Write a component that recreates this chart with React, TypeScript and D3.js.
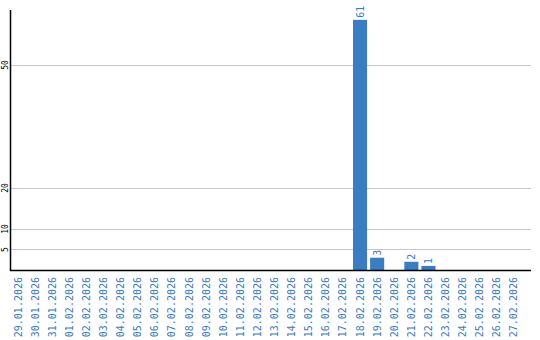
import React from "react";
import * as d3 from "d3";

const categories: string[] = [
  "29.01.2026", "30.01.2026", "31.01.2026", "01.02.2026", "02.02.2026", "03.02.2026",
  "04.02.2026", "05.02.2026", "06.02.2026", "07.02.2026", "08.02.2026", "09.02.2026",
  "10.02.2026", "11.02.2026", "12.02.2026", "13.02.2026", "14.02.2026", "15.02.2026",
  "16.02.2026", "17.02.2026", "18.02.2026", "19.02.2026", "20.02.2026", "21.02.2026",
  "22.02.2026", "23.02.2026", "24.02.2026", "25.02.2026", "26.02.2026", "27.02.2026",
];
const values: number[] = [
  0, 0, 0, 0, 0, 0, 0, 0, 0, 0, 0, 0, 0, 0, 0, 0, 0, 0, 0, 0,
  61, 3, 0, 2, 1, 0, 0, 0, 0, 0,
];
const yTicks: number[] = [5, 10, 20, 50];

const W = 540;
const H = 340;
const left = 10.5;
const top = 10;
const bottom = 270;
const right = 531;
const blue = "#3b7dc3";
const labelBlue = "#3a78bf";

export default function App() {
  const x = d3
    .scaleBand<string>()
    .domain(categories)
    .range([11, 521])
    .paddingInner(3 / 17)
    .paddingOuter(0);
  const y = d3.scaleLinear().domain([0, 63.4]).range([bottom, top]);
  const bw = x.bandwidth();

  return (
    <svg
      width={W}
      height={H}
      style={{ position: "absolute", left: 0, top: 0, background: "#fff" }}
      fontFamily="'DejaVu Sans Mono', monospace"
    >
      {yTicks.map((t) => (
        <g key={t}>
          <line x1={left} x2={right} y1={Math.round(y(t)) + 0.5} y2={Math.round(y(t)) + 0.5} stroke="#c8c8c8" strokeWidth={1} />
          <text
            transform={`translate(8,${y(t)}) rotate(-90)`}
            textAnchor="middle"
            fontSize={8}
            fill="#000"
          >
            {t}
          </text>
        </g>
      ))}
      {categories.map((c, i) =>
        values[i] > 0 ? (
          <g key={c}>
            <rect x={x(c)} y={y(values[i])} width={bw} height={bottom - y(values[i])} fill={blue} />
            <text
              transform={`translate(${(x(c) as number) + bw / 2 + 3.5},${y(values[i]) - 2}) rotate(-90)`}
              textAnchor="start"
              fontSize={10}
              fill={labelBlue}
            >
              {values[i]}
            </text>
          </g>
        ) : null
      )}
      <line x1={left} x2={left} y1={top} y2={bottom + 1} stroke="#000" strokeWidth={1.5} />
      <line x1={left - 0.5} x2={right} y1={bottom + 0.5} y2={bottom + 0.5} stroke="#000" strokeWidth={1.5} />
      {categories.map((c) => (
        <text
          key={c}
          transform={`translate(${(x(c) as number) + bw / 2 + 3.5},277) rotate(-90)`}
          textAnchor="end"
          fontSize={10}
          fill={labelBlue}
        >
          {c}
        </text>
      ))}
    </svg>
  );
}
